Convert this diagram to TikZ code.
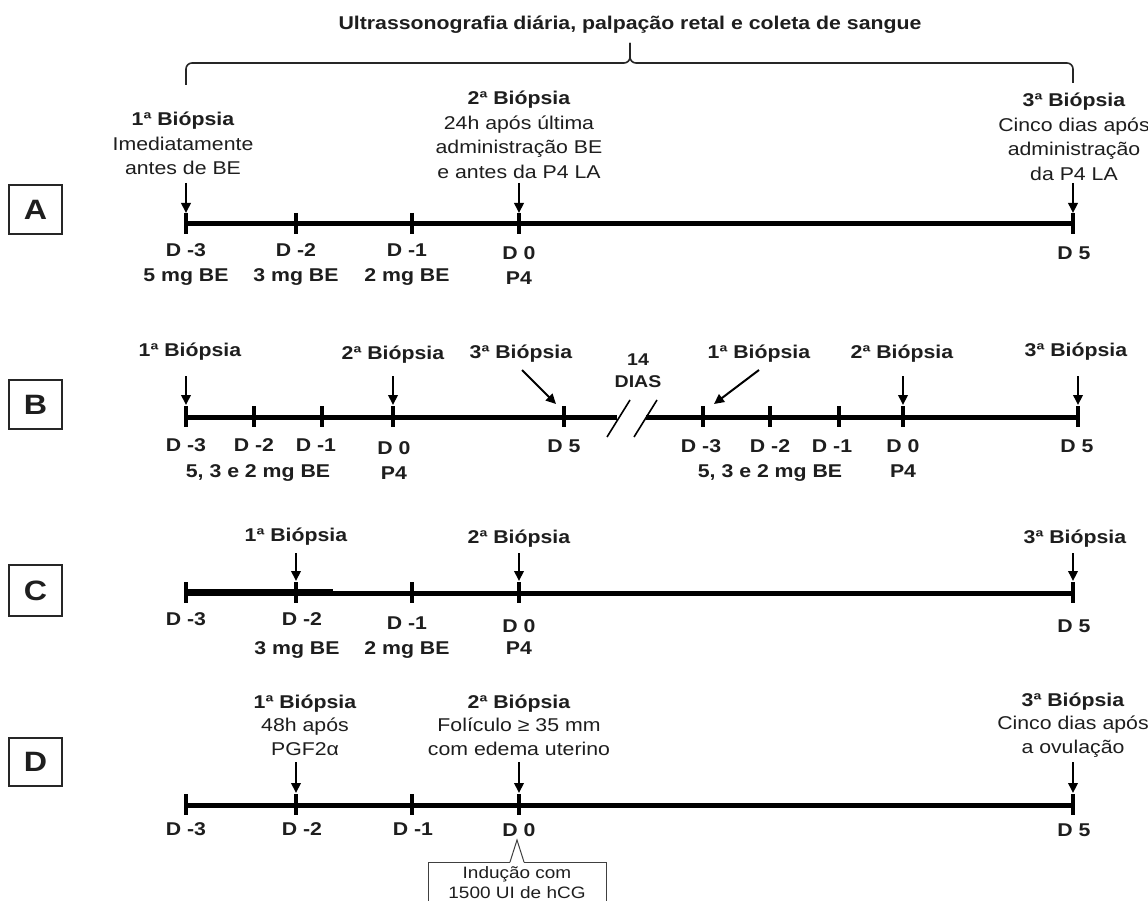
\documentclass[tikz,border=0pt]{standalone}
\usepackage{fontspec}
\setmainfont{Liberation Sans}[FakeStretch=1.15]
\usetikzlibrary{arrows.meta}
\definecolor{txt}{HTML}{1E1E1E}
\newcommand\Nl{\\\strut}
\begin{document}
\begin{tikzpicture}[x=1pt,y=-1pt,
  tl/.style={line width=5pt,black},
  tk/.style={line width=4.5pt,black},
  arr/.style={line width=2pt,black,-{Triangle[length=10pt,width=9.5pt]}},
  up/.style={anchor=north,align=center,inner sep=0pt,text=txt,font=\fontsize{18.5}{24.5}\selectfont},
  upd/.style={up,font=\fontsize{18.5}{23.5}\selectfont},
  lo/.style={anchor=north,align=center,inner sep=0pt,text=txt,font=\bfseries\fontsize{18.5}{25}\selectfont},
  bx/.style={draw=black!85,line width=1.6pt,inner sep=0pt,minimum width=53pt,font=\bfseries\fontsize{28}{28}\selectfont,text=txt},
  brace/.style={line width=1.6pt,black!85,rounded corners=6pt},
  brk/.style={line width=1.6pt,black},
]
\useasboundingbox (0,0) rectangle (1148,901);
\clip (0,0) rectangle (1148,901);
\fill[white] (0,0) rectangle (1148,901);

% ---------- title and brace
\node[inner sep=0pt,text=txt,font=\bfseries\fontsize{18.5}{22}\selectfont] (title) at (630,25) {Ultrassonografia diária, palpação retal e coleta de sangue};
\coordinate (brL) at (186,85);
\coordinate (brT) at (630,43);
\coordinate (brR) at (1073,83);
\draw[brace] (brL) |- (630,63) -- (brT);
\draw[brace] (brT) -- (630,63) -| (brR);

% ---------- A
\node[bx,minimum height=49pt] (boxA) at (35.5,209.5) {A};
\foreach \n/\x in {0/186,1/296,2/412,3/519,4/1073} \coordinate (a\n) at (\x,224);
\draw[tl] (a0) -- (a4);
\foreach \n in {0,...,4} \draw[tk] ([yshift=11pt]a\n) -- ([yshift=-10pt]a\n);
\foreach \n in {0,3,4} \draw[arr] ([yshift=41pt]a\n) -- ([yshift=11pt]a\n);
\node[up] (aU0) at (183,108.5) {\strut\textbf{1ª Biópsia}\Nl Imediatamente\Nl antes de BE};
\node[up] (aU3) at (519,87.5) {\strut\textbf{2ª Biópsia}\Nl 24h após última\Nl administração BE\Nl e antes da P4 LA};
\node[up] (aU4) at (1074,89.5) {\strut\textbf{3ª Biópsia}\Nl Cinco dias após\Nl administração\Nl da P4 LA};
\node[lo] (aL0) at (186,238.5) {\strut D -3\Nl 5 mg BE};
\node[lo] (aL1) at (296,238.5) {\strut D -2\Nl 3 mg BE};
\node[lo] (aL2) at (407,238.5) {\strut D -1\Nl 2 mg BE};
\node[lo] (aL3) at (519,241.5) {\strut D 0\Nl P4};
\node[lo] (aL4) at (1074,241.5) {\strut D 5};

% ---------- B
\node[bx,minimum height=49pt] (boxB) at (35.5,404.5) {B};
\foreach \n/\x in {0/186,1/254,2/322,3/393,4/564,5/703,6/770,7/839,8/903,9/1078} \coordinate (b\n) at (\x,417);
\coordinate (bE1) at (617,417);
\coordinate (bS2) at (646,417);
\draw[tl] (b0) -- (bE1);
\draw[tl] (bS2) -- (b9);
\foreach \n in {0,...,9} \draw[tk] ([yshift=11pt]b\n) -- ([yshift=-10pt]b\n);
\coordinate (s1a) at (607,437); \coordinate (s1b) at (630,400);
\coordinate (s2a) at (634,437); \coordinate (s2b) at (657,400);
\draw[brk] (s1a) -- (s1b);
\draw[brk] (s2a) -- (s2b);
\foreach \n in {0,3,8,9} \draw[arr] ([yshift=41pt]b\n) -- ([yshift=12pt]b\n);
\coordinate (d1s) at (522,370); \coordinate (d1e) at (556,404);
\coordinate (d2s) at (759,370); \coordinate (d2e) at (714,404);
\draw[arr] (d1s) -- (d1e);
\draw[arr] (d2s) -- (d2e);
\node[up] (bU0) at (190,339.5) {\strut\textbf{1ª Biópsia}};
\node[up] (bU3) at (393,342.5) {\strut\textbf{2ª Biópsia}};
\node[up] (bU4) at (521,341.5) {\strut\textbf{3ª Biópsia}};
\node[lo,font=\bfseries\fontsize{17}{22}\selectfont] (b14) at (638,350) {\strut 14\Nl DIAS};
\node[up] (bU5) at (759,341.5) {\strut\textbf{1ª Biópsia}};
\node[up] (bU8) at (902,341.5) {\strut\textbf{2ª Biópsia}};
\node[up] (bU9) at (1076,339.5) {\strut\textbf{3ª Biópsia}};
\node[lo] (bL0) at (186,433.5) {\strut D -3};
\node[lo] (bL1) at (254,433.5) {\strut D -2};
\node[lo] (bL2) at (316,433.5) {\strut D -1};
\node[lo] (bLd) at (258,459.5) {\strut 5, 3 e 2 mg BE};
\node[lo] (bL3) at (394,436.5) {\strut D 0\Nl P4};
\node[lo] (bL4) at (564,434.5) {\strut D 5};
\node[lo] (bL5) at (701,434.5) {\strut D -3};
\node[lo] (bL6) at (770,434.5) {\strut D -2};
\node[lo] (bL7) at (832,434.5) {\strut D -1};
\node[lo] (bLe) at (770,459.5) {\strut 5, 3 e 2 mg BE};
\node[lo] (bL8) at (903,434.5) {\strut D 0\Nl P4};
\node[lo] (bL9) at (1077,434.5) {\strut D 5};

% ---------- C
\node[bx,minimum height=51pt] (boxC) at (35.5,590.5) {C};
\foreach \n/\x in {0/186,1/296,2/412,3/519,4/1073} \coordinate (c\n) at (\x,593);
\coordinate (cg) at (333,591.8);
\draw[tl] (c0) -- (c4);
\draw[tl] ([yshift=1.2pt]c0) -- (cg);
\foreach \n in {0,...,4} \draw[tk] ([yshift=11pt]c\n) -- ([yshift=-10pt]c\n);
\foreach \n in {1,3,4} \draw[arr] ([yshift=40pt]c\n) -- ([yshift=12pt]c\n);
\node[up] (cU1) at (296,524.5) {\strut\textbf{1ª Biópsia}};
\node[up] (cU3) at (519,526.5) {\strut\textbf{2ª Biópsia}};
\node[up] (cU4) at (1075,526.5) {\strut\textbf{3ª Biópsia}};
\node[lo] (cL0) at (186,607.5) {\strut D -3};
\node[lo] (cL1) at (302,607.5) {\strut D -2};
\node[lo] (cL1b) at (297,636.5) {\strut 3 mg BE};
\node[lo] (cL2) at (407,611.5) {\strut D -1};
\node[lo] (cL2b) at (407,636.5) {\strut 2 mg BE};
\node[lo] (cL3) at (519,614.5) {\strut D 0};
\node[lo] (cL3b) at (519,636.5) {\strut P4};
\node[lo] (cL4) at (1074,614.5) {\strut D 5};

% ---------- D
\node[bx,minimum height=48pt] (boxD) at (35.5,762) {D};
\foreach \n/\x in {0/186,1/296,2/412,3/519,4/1073} \coordinate (e\n) at (\x,805);
\draw[tl] (e0) -- (e4);
\foreach \n in {0,...,4} \draw[tk] ([yshift=11pt]e\n) -- ([yshift=-10pt]e\n);
\foreach \n in {1,3,4} \draw[arr] ([yshift=43pt]e\n) -- ([yshift=12pt]e\n);
\node[upd] (eU1) at (305,691.5) {\strut\textbf{1ª Biópsia}\Nl 48h após\Nl PGF2α};
\node[upd] (eU3) at (519,691.5) {\strut\textbf{2ª Biópsia}\Nl Folículo ≥ 35 mm\Nl com edema uterino};
\node[upd] (eU4) at (1073,689.5) {\strut\textbf{3ª Biópsia}\Nl Cinco dias após\Nl a ovulação};
\node[lo] (eL0) at (186,818) {\strut D -3};
\node[lo] (eL1) at (302,818) {\strut D -2};
\node[lo] (eL2) at (413,818) {\strut D -1};
\node[lo] (eL3) at (519,818.5) {\strut D 0};
\node[lo] (eL4) at (1074,818.5) {\strut D 5};

% ---------- callout
\node[draw=black!75,line width=1pt,fill=white,anchor=north,minimum width=178pt,inner xsep=0pt,inner ysep=1.5pt,align=center,text=txt,font=\fontsize{16.5}{20}\selectfont] (cal) at (517,862) {\strut Indução com\Nl 1500 UI de hCG};
\coordinate (calp) at (517,840);
\coordinate (calbl) at (510,862);
\coordinate (calbr) at (524,862);
\fill[white] ([yshift=-1.2pt]calbl) -- (calp) -- ([yshift=-1.2pt]calbr) -- cycle;
\draw[black!75,line width=1pt] (calbl) -- (calp) -- (calbr);
\end{tikzpicture}
\end{document}
